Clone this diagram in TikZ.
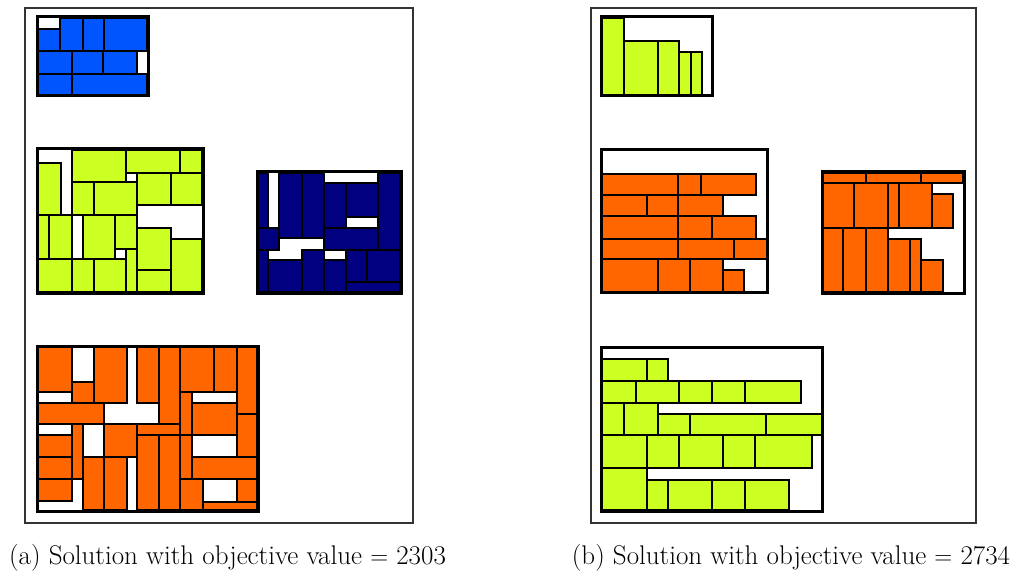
\documentclass[tikz,border=0pt]{standalone}
\usepackage{xcolor}
\definecolor{pbl}{RGB}{0,85,255}
\definecolor{pgr}{RGB}{204,255,34}
\definecolor{pnv}{RGB}{0,0,128}
\definecolor{por}{RGB}{255,102,0}
\newcommand\pkr[5]{\filldraw[pk,fill=#1] (#2,#3) rectangle (#4,#5);}
\newcommand\pkrow[4]{\foreach \a/\b in {#4} {\filldraw[pk,fill=#1] (\a,#2) rectangle (\b,#3);}}
\begin{document}
\begin{tikzpicture}[x=1pt,y=-1pt,
  pk/.style={draw=black,line width=1.6pt},
  bin/.style={draw=black,line width=3pt},
  panel/.style={draw=black!80,line width=1.1pt},
  captxt/.style={font=\fontsize{27}{32}\selectfont,inner sep=0pt}]
\useasboundingbox (0,0) rectangle (1016,580);
% panels
\draw[panel] (25,8) rectangle (413,523);
\draw[panel] (591,8) rectangle (976,523);
% ---- (a) blue
\pkr{pbl}{38}{29}{60}{51}
\pkr{pbl}{60}{18}{83}{51}
\pkr{pbl}{83}{18}{104}{51}
\pkr{pbl}{104}{18}{147}{51}
\pkr{pbl}{38}{51}{72}{74}
\pkr{pbl}{72}{51}{103}{74}
\pkr{pbl}{103}{51}{137}{74}
\pkr{pbl}{38}{74}{72}{95}
\pkr{pbl}{72}{74}{147}{95}
\draw[bin] (37,17) rectangle (148,96);
% ---- (a) green
\pkr{pgr}{38}{163}{61}{215}
\pkr{pgr}{72}{150}{126}{182}
\pkr{pgr}{126}{150}{180}{173}
\pkr{pgr}{180}{150}{202}{173}
\pkr{pgr}{137}{173}{171}{205}
\pkr{pgr}{171}{173}{202}{205}
\pkr{pgr}{72}{182}{94}{215}
\pkr{pgr}{94}{182}{137}{215}
\pkr{pgr}{137}{228}{171}{270}
\pkr{pgr}{171}{239}{202}{292}
\pkr{pgr}{137}{270}{171}{292}
\pkr{pgr}{38}{215}{49}{259}
\pkr{pgr}{49}{215}{72}{259}
\pkr{pgr}{83}{215}{115}{259}
\pkr{pgr}{115}{215}{137}{249}
\pkr{pgr}{126}{249}{137}{292}
\pkr{pgr}{38}{259}{72}{292}
\pkr{pgr}{72}{259}{94}{292}
\pkr{pgr}{94}{259}{126}{292}
\draw[bin] (37,149) rectangle (203,293);
% ---- (a) navy
\pkr{pnv}{258}{173}{268}{228}
\pkr{pnv}{279}{173}{302}{238}
\pkr{pnv}{302}{173}{324}{238}
\pkr{pnv}{324}{183}{346}{228}
\pkr{pnv}{346}{183}{378}{217}
\pkr{pnv}{378}{173}{400}{250}
\pkr{pnv}{258}{228}{279}{250}
\pkr{pnv}{324}{228}{378}{250}
\pkr{pnv}{258}{250}{268}{292}
\pkr{pnv}{268}{260}{302}{292}
\pkr{pnv}{302}{250}{324}{292}
\pkr{pnv}{324}{260}{346}{292}
\pkr{pnv}{346}{250}{367}{282}
\pkr{pnv}{367}{250}{400}{282}
\pkr{pnv}{346}{282}{400}{292}
\draw[bin] (257,172) rectangle (401,293);
% ---- (a) orange
\pkr{por}{38}{347}{72}{392}
\pkr{por}{72}{382}{94}{403}
\pkr{por}{94}{347}{127}{403}
\pkr{por}{137}{347}{159}{403}
\pkr{por}{159}{347}{180}{424}
\pkr{por}{180}{347}{214}{392}
\pkr{por}{214}{347}{237}{392}
\pkr{por}{237}{347}{257}{414}
\pkr{por}{180}{392}{192}{435}
\pkr{por}{192}{403}{237}{435}
\pkr{por}{237}{414}{257}{457}
\pkr{por}{180}{435}{192}{479}
\pkr{por}{192}{457}{257}{479}
\pkr{por}{180}{479}{203}{510}
\pkr{por}{237}{479}{257}{502}
\pkr{por}{203}{502}{257}{510}
\pkr{por}{38}{403}{104}{424}
\pkr{por}{137}{424}{180}{435}
\pkr{por}{72}{424}{83}{479}
\pkr{por}{104}{424}{137}{457}
\pkr{por}{38}{435}{72}{457}
\pkr{por}{38}{457}{72}{479}
\pkr{por}{38}{479}{72}{501}
\pkr{por}{83}{457}{104}{510}
\pkr{por}{104}{457}{127}{510}
\pkr{por}{137}{435}{159}{510}
\pkr{por}{159}{435}{180}{510}
\draw[bin] (37,346) rectangle (258,511);
% ---- (b) green top
\pkr{pgr}{602}{18}{624}{95}
\pkr{pgr}{624}{41}{658}{95}
\pkr{pgr}{658}{41}{679}{95}
\pkr{pgr}{679}{52}{691}{95}
\pkr{pgr}{691}{52}{702}{95}
\draw[bin] (601,17) rectangle (712,96);
% ---- (b) orange left
\pkrow{por}{174}{195}{602/678,678/701,701/756}
\pkrow{por}{195}{216}{602/647,647/678,678/723}
\pkrow{por}{216}{239}{602/678,678/712,712/756}
\pkrow{por}{239}{259}{602/678,678/734,734/767}
\pkrow{por}{259}{292}{602/658,658/690,690/723}
\pkr{por}{723}{270}{744}{292}
\draw[bin] (601,150) rectangle (767,292);
% ---- (b) orange right
\pkrow{por}{173}{183}{822/866,866/921,921/963}
\pkrow{por}{183}{228}{822/854,854/888,888/899,899/932}
\pkr{por}{932}{194}{953}{228}
\pkrow{por}{228}{292}{822/843,843/866,866/888}
\pkr{por}{888}{239}{910}{292}
\pkr{por}{910}{239}{921}{292}
\pkr{por}{921}{260}{943}{292}
\draw[bin] (822,172) rectangle (964,293);
% ---- (b) green bottom
\pkrow{pgr}{359}{381}{602/647,647/668}
\pkrow{pgr}{381}{403}{602/636,636/679,679/712,712/745,745/801}
\pkrow{pgr}{403}{435}{602/624,624/658}
\pkrow{pgr}{414}{435}{658/690,690/766,766/822}
\pkrow{pgr}{435}{468}{602/647,647/679,679/723,723/755,755/812}
\pkr{pgr}{602}{468}{647}{510}
\pkrow{pgr}{480}{510}{647/668,668/712,712/745,745/789}
\draw[bin] (601,347) rectangle (822,511);
% captions
\node[captxt] (capa) at (227.5,558) {(a) Solution with objective value $=$ 2303};
\node[captxt] (capb) at (791,558) {(b) Solution with objective value $=$ 2734};
\end{tikzpicture}
\end{document}
